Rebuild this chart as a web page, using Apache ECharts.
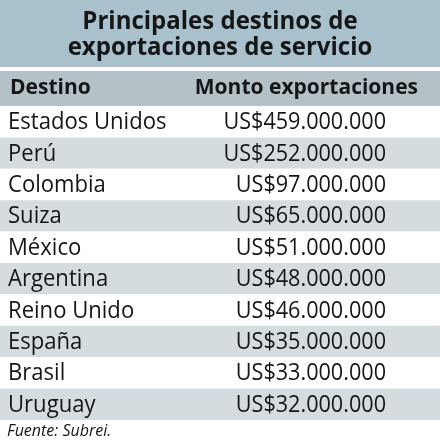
<!DOCTYPE html>
<html>
<head>
<meta charset="utf-8">
<script src="https://cdn.jsdelivr.net/npm/echarts@6/dist/echarts.min.js"></script>
<style>html,body{margin:0;padding:0;background:#fff}#c{width:440px;height:443px}</style>
</head>
<body>
<div id="c"></div>
<script>
const titleLines = ['Principales destinos de', 'exportaciones de servicio'];
const headers = ['Destino', 'Monto exportaciones'];
const countries = ['Estados Unidos','Perú','Colombia','Suiza','México','Argentina','Reino Unido','España','Brasil','Uruguay'];
const amounts = [459000000,252000000,97000000,65000000,51000000,48000000,46000000,35000000,33000000,32000000];
const source = 'Fuente: Subrei.';

function fmt(v){ return 'US$' + String(v).replace(/\B(?=(\d{3})+(?!\d))/g, '.'); }

const FONT = '"Open Sans", sans-serif';
const INK = '#161616';
const chart = echarts.init(document.getElementById('c'), null, {renderer:'canvas'});
chart.setOption({
  animation:false,
  grid:{left:0,right:0,top:106,bottom:23},
  xAxis:{type:'value',min:0,max:1,show:false},
  yAxis:{type:'category',data:countries,inverse:true,show:false},
  graphic:[
    {type:'rect',shape:{x:0,y:0,width:440,height:67},style:{fill:'#a9c1cd'}},
    {type:'rect',shape:{x:0,y:71,width:440,height:35},style:{fill:'#b4c2c8'}},
    {type:'text',x:220,y:22,scaleX:0.96,style:{text:titleLines[0],fill:INK,font:'bold 25px '+FONT,textAlign:'center',textVerticalAlign:'middle'}},
    {type:'text',x:220,y:48,scaleX:0.96,style:{text:titleLines[1],fill:INK,font:'bold 25px '+FONT,textAlign:'center',textVerticalAlign:'middle'}},
    {type:'text',x:10,y:88,style:{text:headers[0],fill:INK,font:'bold 21px '+FONT,textAlign:'left',textVerticalAlign:'middle'}},
    {type:'text',x:418,y:88,style:{text:headers[1],fill:INK,font:'bold 21px '+FONT,textAlign:'right',textVerticalAlign:'middle'}},
    {type:'text',x:7,y:431,style:{text:source,fill:INK,font:'italic 16px '+FONT,textAlign:'left',textVerticalAlign:'middle'}}
  ],
  series:[{
    type:'custom',
    data:countries.map((c,i)=>[0,i,amounts[i]]),
    encode:{x:0,y:1},
    renderItem:function(params, api){
      const i = api.value(1);
      const p0 = api.coord([0,i]);
      const p1 = api.coord([1,i]);
      const h = api.size([0,1])[1];
      return {type:'group',children:[
        {type:'rect',shape:{x:p0[0],y:p0[1]-h/2,width:p1[0]-p0[0],height:h},style:{fill: i%2===1 ? '#d4dcdf' : '#ffffff'}},
        {type:'text',x:8,y:p0[1]+1,scaleX:0.96,style:{text:countries[i],fill:INK,font:'23px '+FONT,textAlign:'left',textVerticalAlign:'middle'}},
        {type:'text',x:386,y:p0[1]+1,scaleX:0.94,style:{text:fmt(api.value(2)),fill:INK,font:'23px '+FONT,textAlign:'right',textVerticalAlign:'middle'}}
      ]};
    }
  }]
});
</script>
</body>
</html>
